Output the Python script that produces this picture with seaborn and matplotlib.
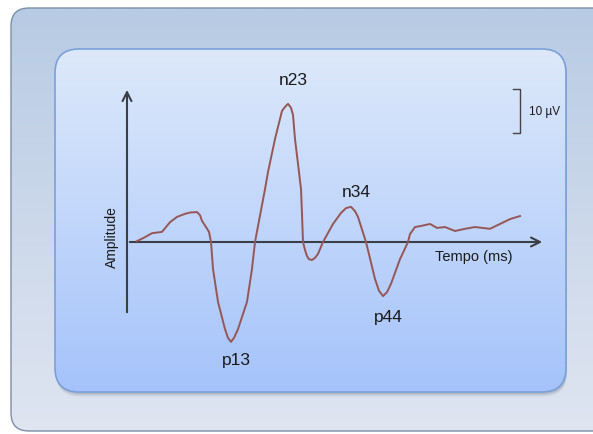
import numpy as np
import pandas as pd
import matplotlib
matplotlib.use('Agg')
import matplotlib.pyplot as plt
from matplotlib.patches import FancyBboxPatch
import seaborn as sns

# tempo (ms) e ampiezza (µV)
tempo = [2.0, 3.6, 5.0, 7.0, 8.6, 10.0, 11.6, 12.6, 14.0, 14.6, 15.0, 15.8, 16.4, 16.8,
         17.2, 18.2, 19.6, 20.2, 20.8, 21.4, 22.2, 24.0, 25.0, 25.6, 27.6, 28.2, 29.6,
         31.0, 31.6, 32.2, 32.8, 33.2, 33.6, 34.4, 34.8, 35.0, 35.2, 35.6, 36.0, 36.4,
         37.0, 37.6, 38.2, 39.2, 41.2, 42.8, 43.8, 44.8, 45.6, 46.2, 47.8, 49.6, 50.4,
         51.2, 52.0, 52.8, 54.6, 56.2, 56.6, 57.6, 58.6, 60.6, 62.0, 63.6, 65.6, 67.6,
         69.6, 72.6, 74.6, 76.6, 78.6]
ampiezza = [0.2, 1.1, 2.0, 2.3, 4.5, 5.7, 6.4, 6.7, 6.8, 6.1, 4.8, 3.4, 2.3, 0.0,
            -6.1, -13.6, -19.8, -21.8, -22.7, -21.8, -19.8, -13.6, -6.1, 0.0, 12.0, 15.9, 23.4,
            29.8, 30.7, 31.4, 30.5, 28.9, 23.4, 15.9, 12.0, 6.4, 0.0, -1.8, -3.2, -3.9,
            -4.1, -3.6, -2.7, 0.0, 4.1, 6.6, 7.7, 8.0, 7.0, 5.7, 0.0, -8.4, -11.1,
            -12.3, -11.4, -9.5, -3.9, 0.0, 1.8, 3.4, 3.6, 4.1, 3.2, 3.4, 2.5, 3.0,
            3.4, 3.0, 4.1, 5.2, 5.9]

picchi = ['p13', 'n23', 'n34', 'p44']
picchi_t = [21.8, 33.2, 45.8, 52.2]
picchi_a = [-26.6, 37.0, 11.4, -17.0]

scala_uv = 10
scala_t = 78.6
scala_top = 34.8

df = pd.DataFrame({'Tempo': tempo, 'Ampiezza': ampiezza})

plt.rcParams['font.family'] = ['Liberation Sans', 'DejaVu Sans']

fig = plt.figure(figsize=(5.93, 4.35), dpi=100)

# sfondo (pixel)
bg = fig.add_axes([0, 0, 1, 1])
bg.set_xlim(0, 593)
bg.set_ylim(435, 0)
bg.axis('off')

def box_gradiente(x, y, w, h, r, c_top, c_bot, edge, lw):
    patch = FancyBboxPatch((x, y), w, h, boxstyle='round,pad=0,rounding_size=%d' % r,
                           facecolor='none', edgecolor=edge, linewidth=lw, zorder=3)
    bg.add_patch(patch)
    grad = np.linspace(0, 1, 256).reshape(-1, 1)
    cmap = matplotlib.colors.LinearSegmentedColormap.from_list('g', [c_top, c_bot])
    im = bg.imshow(grad, cmap=cmap, aspect='auto', extent=(x, x + w, y + h, y), zorder=2)
    im.set_clip_path(patch)

box_gradiente(11, 9, 620, 423, 18, '#b8cbe4', '#dfe5f1', '#7d8ea8', 1.0)

# ombra
for i, a in enumerate([0.10, 0.08, 0.06, 0.04]):
    bg.add_patch(FancyBboxPatch((55 + 1, 50 + 2 + i), 511, 343, boxstyle='round,pad=0,rounding_size=24',
                                facecolor='#404a5a', edgecolor='none', alpha=a, zorder=2))
box_gradiente(55, 50, 511, 343, 24, '#dde9fb', '#a5c3fa', '#7ba0d8', 1.2)
bg.set_xlim(0, 593)
bg.set_ylim(435, 0)

# grafico
ax = fig.add_axes([0, 0, 1, 1])
ax.patch.set_alpha(0)
ax.set_xlim(-127 / 5, (593 - 127) / 5)
ax.set_ylim((243 - 435) / 4.4, 243 / 4.4)
ax.axis('off')

sns.lineplot(data=df, x='Tempo', y='Ampiezza', color='#965656', linewidth=1.4,
             ax=ax, zorder=6, sort=False)
ax.lines[-1].set_solid_joinstyle('round')

ax.annotate('', xy=(0, 35.2), xytext=(0, -16.6),
            arrowprops=dict(arrowstyle='->', color='#3a3f46', lw=1.5, mutation_scale=16), zorder=5)
ax.annotate('', xy=(83.6, 0), xytext=(0, 0),
            arrowprops=dict(arrowstyle='->', color='#3a3f46', lw=1.5, mutation_scale=16), zorder=5)

for nome, t, a in zip(picchi, picchi_t, picchi_a):
    ax.text(t, a, nome, ha='center', va='center', fontsize=12.5, color='#1a1a1a', zorder=7)

ax.text(-3.0, 1.4, 'Amplitude', rotation=90, ha='center', va='center', fontsize=10, color='#1a1a1a')
ax.text(69.4, -3.2, 'Tempo (ms)', ha='center', va='center', fontsize=10.5, color='#1a1a1a')

# barra di scala
ax.plot([scala_t - 1.4, scala_t, scala_t, scala_t - 1.4],
        [scala_top, scala_top, scala_top - scala_uv, scala_top - scala_uv],
        color='#444444', lw=1.0)
ax.text(scala_t + 1.8, scala_top - scala_uv / 2, '10 µV', ha='left', va='center', fontsize=8.5, color='#1a1a1a')

plt.savefig('out.png', dpi=100)
